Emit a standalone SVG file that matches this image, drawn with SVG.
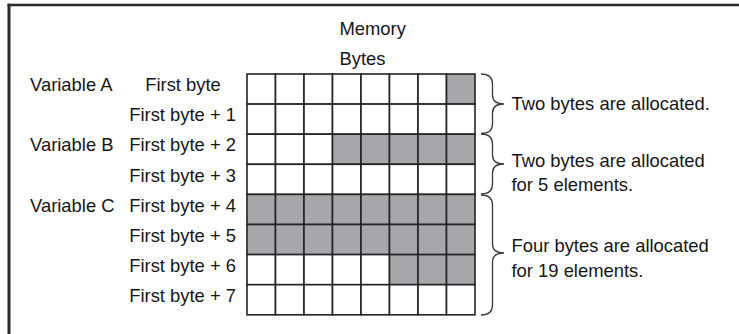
<svg xmlns="http://www.w3.org/2000/svg" width="739" height="334" viewBox="0 0 739 334">
<style>
  text { font-family: "Liberation Sans", Arial, sans-serif; font-size: 18.4px; fill: #161616; }
  .mid { text-anchor: middle; }
  .end { text-anchor: end; }
  .cell { fill: #ffffff; stroke: #232323; stroke-width: 1.6; }
  .on { fill: #a7a7a9; }
  .brace { fill: none; stroke: #3a3a3a; stroke-width: 1.3; }
  .frame { stroke: #2a2a2a; fill: none; }
</style>
<rect width="739" height="334" fill="#ffffff"/>
<g id="frame">
  <line class="frame" x1="7.5" y1="5" x2="739" y2="5" stroke-width="2.6"/>
  <line class="frame" x1="9" y1="3.8" x2="9" y2="334" stroke-width="3"/>
</g>
<g id="header">
  <text x="339.5" y="35">Memory</text>
  <text x="339.5" y="65">Bytes</text>
</g>
<g id="labels">
  <text x="30" y="91">Variable A</text>
  <text x="30" y="151">Variable B</text>
  <text x="30" y="211.5">Variable C</text>
  <text class="mid" x="183" y="91">First byte</text>
  <text class="end" x="236" y="121">First byte + 1</text>
  <text class="end" x="236" y="151">First byte + 2</text>
  <text class="end" x="236" y="181.5">First byte + 3</text>
  <text class="end" x="236" y="211.5">First byte + 4</text>
  <text class="end" x="236" y="241.5">First byte + 5</text>
  <text class="end" x="236" y="272">First byte + 6</text>
  <text class="end" x="236" y="302">First byte + 7</text>
</g>
<g id="grid">
  <!-- row 0 -->
  <rect class="cell" x="247" y="74" width="28.5" height="30.1"/>
  <rect class="cell" x="275.5" y="74" width="28.5" height="30.1"/>
  <rect class="cell" x="304" y="74" width="28.5" height="30.1"/>
  <rect class="cell" x="332.5" y="74" width="28.5" height="30.1"/>
  <rect class="cell" x="361" y="74" width="28.5" height="30.1"/>
  <rect class="cell" x="389.5" y="74" width="28.5" height="30.1"/>
  <rect class="cell" x="418" y="74" width="28.5" height="30.1"/>
  <rect class="cell on" x="446.5" y="74" width="28.5" height="30.1"/>
  <!-- row 1 -->
  <rect class="cell" x="247" y="104.1" width="28.5" height="30.1"/>
  <rect class="cell" x="275.5" y="104.1" width="28.5" height="30.1"/>
  <rect class="cell" x="304" y="104.1" width="28.5" height="30.1"/>
  <rect class="cell" x="332.5" y="104.1" width="28.5" height="30.1"/>
  <rect class="cell" x="361" y="104.1" width="28.5" height="30.1"/>
  <rect class="cell" x="389.5" y="104.1" width="28.5" height="30.1"/>
  <rect class="cell" x="418" y="104.1" width="28.5" height="30.1"/>
  <rect class="cell" x="446.5" y="104.1" width="28.5" height="30.1"/>
  <!-- row 2 -->
  <rect class="cell" x="247" y="134.2" width="28.5" height="30.1"/>
  <rect class="cell" x="275.5" y="134.2" width="28.5" height="30.1"/>
  <rect class="cell" x="304" y="134.2" width="28.5" height="30.1"/>
  <rect class="cell on" x="332.5" y="134.2" width="28.5" height="30.1"/>
  <rect class="cell on" x="361" y="134.2" width="28.5" height="30.1"/>
  <rect class="cell on" x="389.5" y="134.2" width="28.5" height="30.1"/>
  <rect class="cell on" x="418" y="134.2" width="28.5" height="30.1"/>
  <rect class="cell on" x="446.5" y="134.2" width="28.5" height="30.1"/>
  <!-- row 3 -->
  <rect class="cell" x="247" y="164.3" width="28.5" height="30.1"/>
  <rect class="cell" x="275.5" y="164.3" width="28.5" height="30.1"/>
  <rect class="cell" x="304" y="164.3" width="28.5" height="30.1"/>
  <rect class="cell" x="332.5" y="164.3" width="28.5" height="30.1"/>
  <rect class="cell" x="361" y="164.3" width="28.5" height="30.1"/>
  <rect class="cell" x="389.5" y="164.3" width="28.5" height="30.1"/>
  <rect class="cell" x="418" y="164.3" width="28.5" height="30.1"/>
  <rect class="cell" x="446.5" y="164.3" width="28.5" height="30.1"/>
  <!-- row 4 -->
  <rect class="cell on" x="247" y="194.4" width="28.5" height="30.1"/>
  <rect class="cell on" x="275.5" y="194.4" width="28.5" height="30.1"/>
  <rect class="cell on" x="304" y="194.4" width="28.5" height="30.1"/>
  <rect class="cell on" x="332.5" y="194.4" width="28.5" height="30.1"/>
  <rect class="cell on" x="361" y="194.4" width="28.5" height="30.1"/>
  <rect class="cell on" x="389.5" y="194.4" width="28.5" height="30.1"/>
  <rect class="cell on" x="418" y="194.4" width="28.5" height="30.1"/>
  <rect class="cell on" x="446.5" y="194.4" width="28.5" height="30.1"/>
  <!-- row 5 -->
  <rect class="cell on" x="247" y="224.5" width="28.5" height="30.1"/>
  <rect class="cell on" x="275.5" y="224.5" width="28.5" height="30.1"/>
  <rect class="cell on" x="304" y="224.5" width="28.5" height="30.1"/>
  <rect class="cell on" x="332.5" y="224.5" width="28.5" height="30.1"/>
  <rect class="cell on" x="361" y="224.5" width="28.5" height="30.1"/>
  <rect class="cell on" x="389.5" y="224.5" width="28.5" height="30.1"/>
  <rect class="cell on" x="418" y="224.5" width="28.5" height="30.1"/>
  <rect class="cell on" x="446.5" y="224.5" width="28.5" height="30.1"/>
  <!-- row 6 -->
  <rect class="cell" x="247" y="254.6" width="28.5" height="30.1"/>
  <rect class="cell" x="275.5" y="254.6" width="28.5" height="30.1"/>
  <rect class="cell" x="304" y="254.6" width="28.5" height="30.1"/>
  <rect class="cell" x="332.5" y="254.6" width="28.5" height="30.1"/>
  <rect class="cell" x="361" y="254.6" width="28.5" height="30.1"/>
  <rect class="cell on" x="389.5" y="254.6" width="28.5" height="30.1"/>
  <rect class="cell on" x="418" y="254.6" width="28.5" height="30.1"/>
  <rect class="cell on" x="446.5" y="254.6" width="28.5" height="30.1"/>
  <!-- row 7 -->
  <rect class="cell" x="247" y="284.7" width="28.5" height="30.1"/>
  <rect class="cell" x="275.5" y="284.7" width="28.5" height="30.1"/>
  <rect class="cell" x="304" y="284.7" width="28.5" height="30.1"/>
  <rect class="cell" x="332.5" y="284.7" width="28.5" height="30.1"/>
  <rect class="cell" x="361" y="284.7" width="28.5" height="30.1"/>
  <rect class="cell" x="389.5" y="284.7" width="28.5" height="30.1"/>
  <rect class="cell" x="418" y="284.7" width="28.5" height="30.1"/>
  <rect class="cell" x="446.5" y="284.7" width="28.5" height="30.1"/>
</g>
<g id="connectors">
  <path class="brace" d="M481 74 C488 74 492.5 77 492.5 84 L492.5 95 C492.5 101 496 104 504 104 C496 104 492.5 107 492.5 113 L492.5 124 C492.5 131 488 133.5 481 133.5"/>
  <path class="brace" d="M481 134 C488 134 492.5 137 492.5 144 L492.5 155 C492.5 161 496 164 504 164 C496 164 492.5 167 492.5 173 L492.5 184 C492.5 191 488 194 481 194"/>
  <path class="brace" d="M481 195 C488 195 492.5 198 492.5 205 L492.5 244 C492.5 250 496 253 504 253 C496 253 492.5 256 492.5 262 L492.5 305 C492.5 312 488 315 481 315"/>
</g>
<g id="notes">
  <text x="511.5" y="110">Two bytes are allocated.</text>
  <text x="511.5" y="166.5">Two bytes are allocated</text>
  <text x="511.5" y="190.5">for 5 elements.</text>
  <text x="511.5" y="252">Four bytes are allocated</text>
  <text x="511.5" y="276.5">for 19 elements.</text>
</g>
</svg>
